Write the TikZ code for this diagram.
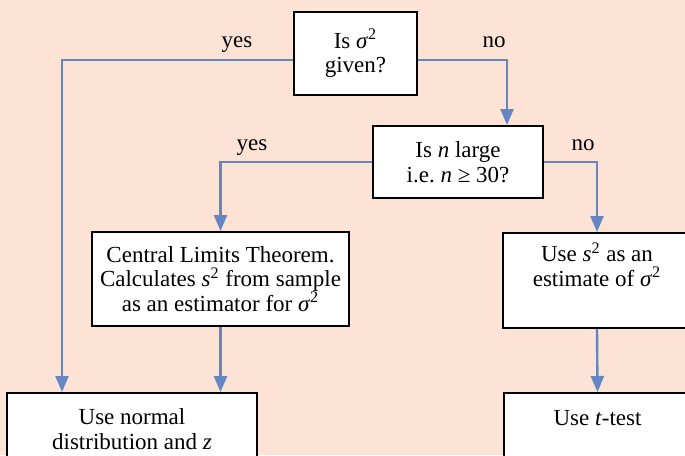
\documentclass[tikz,border=0pt]{standalone}
\usepackage{fontspec}
\setmainfont{Liberation Serif}
\usepackage{tikz}
\usetikzlibrary{arrows.meta, positioning}
\definecolor{pagepeach}{HTML}{FCE3D5}
\definecolor{flowblue}{HTML}{6487C3}

\begin{document}
\begin{tikzpicture}[
    x=0.5pt, y=-0.5pt,
    every node/.style={font=\fontsize{11.5}{12.2}\selectfont},
    qbox/.style={rectangle, draw=black, line width=1pt, fill=white, align=center, inner sep=0pt},
    flow/.style={-{Triangle[width=6.5pt, length=8pt]}, line width=1.2pt, flowblue},
    answer/.style={anchor=base}
]

% Page
\clip (0,0) rectangle (685,455);
\fill[pagepeach] (0,0) rectangle (685,455);

% Questions
\node[qbox, minimum width=61.5pt, minimum height=41.5pt] (given) at (355.5,53.5) {Is \textit{σ}\textsuperscript{2}\\given?};
\node[qbox, minimum width=85pt, minimum height=36pt] (large) at (458,162) {Is \textit{n} large\\i.e.\ \textit{n} ≥ 30?};

% Outcomes
\node[qbox, minimum width=128.5pt, minimum height=47pt] (clt) at (220.5,279) {Central Limits Theorem.\\Calculates \textit{s}\textsuperscript{2} from sample\\as an estimator for \textit{σ}\textsuperscript{2}};
\node[qbox, minimum width=94pt, minimum height=47.5pt] (estimate) at (597,280.5) {Use \textit{s}\textsuperscript{2} as an\\estimate of \textit{σ}\textsuperscript{2}\\[4pt]\mbox{}};
\node[qbox, minimum width=125pt, minimum height=36pt, anchor=north] (normal) at (132,392) {Use normal\\distribution and \textit{z}};
\node[qbox, minimum width=93.5pt, text height=16pt, text depth=30pt, anchor=base] (ttest) at (597.5,425) {Use \textit{t}-test};

% Connectors
\draw[flow] ([yshift=-3.25pt]given.west) -| ([xshift=-35pt]normal.north);
\draw[flow] ([yshift=-3.25pt]given.east) -| ([xshift=24.5pt]large.north);
\draw[flow] (large.west) -| (clt.north);
\draw[flow] (large.east) -| (estimate.north);
\draw[flow] (clt.south) -- (clt.south |- normal.north);
\draw[flow] (estimate.south) -- (ttest.north);

% Answers
\node[answer] (yes1) at (237,47) {yes};
\node[answer] (no1) at (494,47) {no};
\node[answer] (yes2) at (252,150) {yes};
\node[answer] (no2) at (583,150) {no};

\end{tikzpicture}
\end{document}
